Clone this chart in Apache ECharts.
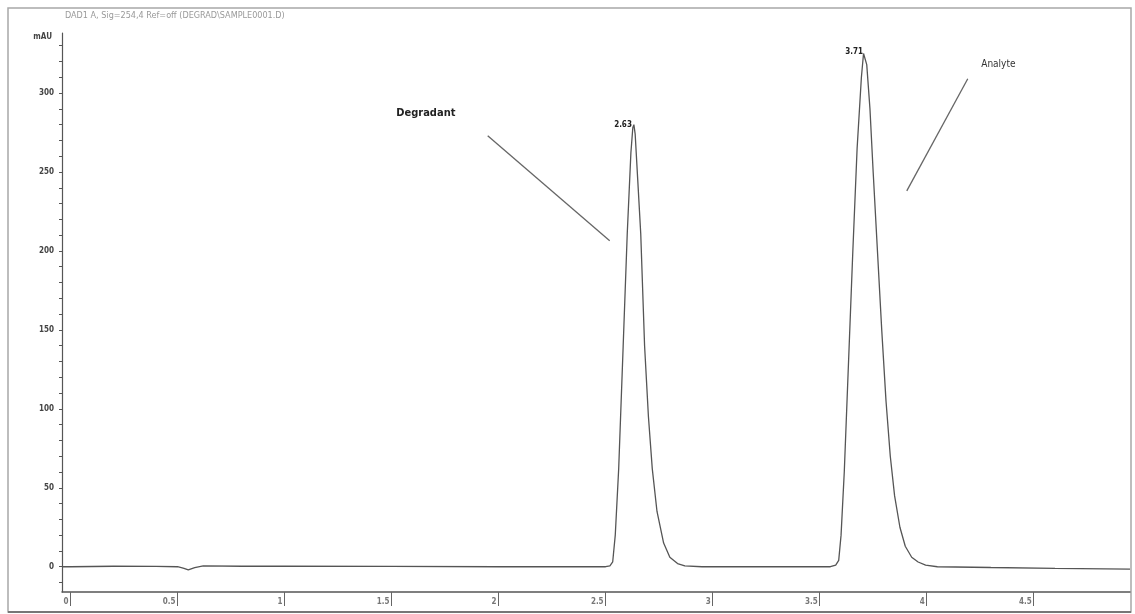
<!DOCTYPE html>
<html>
<head>
<meta charset="utf-8">
<script src="https://cdn.jsdelivr.net/npm/echarts@6/dist/echarts.min.js"></script>
<style>
html,body{margin:0;padding:0;background:#fff;}
#chart{width:1135px;height:614px;}
</style>
</head>
<body>
<div id="chart"></div>
<script>
// Retention time (min)
var times = [-0.04, 0, 0.2, 0.4, 0.5, 0.53, 0.55, 0.58, 0.62, 0.8, 1.0, 1.5, 2.0, 2.4, 2.5, 2.52, 2.533, 2.545, 2.561, 2.582, 2.601, 2.618, 2.627, 2.632, 2.638, 2.650, 2.664, 2.682, 2.700, 2.718, 2.74, 2.771, 2.80, 2.836, 2.87, 2.95, 3.2, 3.4, 3.55, 3.575, 3.589, 3.60, 3.615, 3.635, 3.655, 3.675, 3.695, 3.705, 3.712, 3.72, 3.735, 3.75, 3.77, 3.79, 3.81, 3.83, 3.85, 3.875, 3.90, 3.93, 3.96, 3.995, 4.05, 4.3, 4.6, 4.95];
// Absorbance (mAU)
var signal = [0, 0, 0.3, 0.2, 0, -1, -2, -0.5, 0.5, 0.3, 0.3, 0.2, 0, 0, 0, 0.5, 3, 20, 62, 140, 211, 262, 278, 280, 274, 245, 211, 140, 95, 62, 35, 15, 6, 2, 0.5, 0, 0, 0, 0, 1, 4, 20, 60, 130, 200, 265, 310, 325, 326, 318, 290, 250, 200, 150, 105, 70, 45, 25, 13, 6, 3, 1, 0, -0.5, -1, -1.5];
// Peak labels
var peakNames = ["2.63", "3.71"];
var peakTimes = [2.632, 3.712];
var peakHeights = [280, 326];
var compoundNames = ["Degradant", "Analyte"];
// Axis ticks
var xTicks = [0, 0.5, 1, 1.5, 2, 2.5, 3, 3.5, 4, 4.5];
var yTicks = [0, 50, 100, 150, 200, 250, 300];
var yMinorTicks = [-10, 0, 10, 20, 30, 40, 50, 60, 70, 80, 90, 100, 110, 120, 130, 140, 150, 160, 170, 180, 190, 200, 210, 220, 230, 240, 250, 260, 270, 280, 290, 300, 310, 320, 330];
var yUnit = "mAU";
var signalTitle = "DAD1 A, Sig=254,4 Ref=off (DEGRAD\\SAMPLE0001.D)";

var FONT = '"Liberation Sans Narrow", "DejaVu Sans Condensed", "Liberation Sans", sans-serif';
var data = times.map(function (t, i) { return [t, signal[i]]; });

var chart = echarts.init(document.getElementById('chart'), null, {renderer: 'canvas'});
chart.setOption({
  animation: false,
  backgroundColor: '#ffffff',
  grid: {left: 62, right: 5, top: 33, bottom: 22, containLabel: false},
  xAxis: {
    type: 'value', min: -0.04, max: 4.95,
    axisLine: {onZero: false, lineStyle: {color: '#555', width: 1.5}},
    axisTick: {customValues: xTicks, length: 14, lineStyle: {color: '#666'}},
    axisLabel: {customValues: xTicks, color: '#777', fontSize: 8, fontFamily: FONT, margin: 6, fontWeight: 'bold', align: 'right', padding: [0, 2, 0, 0]},
    splitLine: {show: false}
  },
  yAxis: {
    type: 'value', min: -16, max: 338,
    axisLine: {onZero: false, lineStyle: {color: '#555', width: 1.2}},
    axisTick: {customValues: yMinorTicks, length: 3, lineStyle: {color: '#555'}},
    axisLabel: {customValues: yTicks, color: '#444', fontSize: 8, fontFamily: FONT, margin: 8, fontWeight: 'bold'},
    splitLine: {show: false}
  },
  graphic: [
    {type: 'rect', shape: {x: 8, y: 8, width: 1123, height: 604}, style: {fill: 'none', stroke: '#a8a8a8', lineWidth: 1.5}, silent: true},
    {type: 'line', shape: {x1: 8, y1: 612, x2: 1131, y2: 612}, style: {stroke: '#777', lineWidth: 2}, silent: true},
    {type: 'text', x: 65, y: 11, style: {text: signalTitle, fill: '#999', font: '9px ' + FONT}},
    {type: 'text', x: 52, y: 33, style: {text: yUnit, fill: '#444', font: 'bold 8px ' + FONT, textAlign: 'right'}}
  ],
  series: [{
    type: 'line',
    data: data,
    showSymbol: false,
    smooth: false,
    lineStyle: {color: '#555', width: 1.3},
    markPoint: {
      symbol: 'circle', symbolSize: 0,
      data: [
        {coord: [peakTimes[0], peakHeights[0]], label: {show: true, formatter: peakNames[0], position: 'left', distance: 2, color: '#222', fontSize: 8, fontWeight: 'bold', fontFamily: FONT}},
        {coord: [peakTimes[1], peakHeights[1]], label: {show: true, formatter: peakNames[1], position: 'left', distance: 2, color: '#222', fontSize: 8, fontWeight: 'bold', fontFamily: FONT}},
        {coord: [1.66, 287], label: {show: true, formatter: compoundNames[0], position: 'inside', color: '#222', fontSize: 11, fontWeight: 'bold', fontFamily: FONT}},
        {coord: [4.335, 318], label: {show: true, formatter: compoundNames[1], position: 'inside', color: '#333', fontSize: 10, fontFamily: FONT}}
      ]
    },
    markLine: {
      symbol: ['none', 'none'], silent: true,
      lineStyle: {color: '#666', width: 1.3, type: 'solid'},
      label: {show: false},
      data: [
        [{coord: [1.949, 273]}, {coord: [2.519, 206.5]}],
        [{coord: [4.192, 309]}, {coord: [3.907, 238]}]
      ]
    }
  }]
});
</script>
</body>
</html>
